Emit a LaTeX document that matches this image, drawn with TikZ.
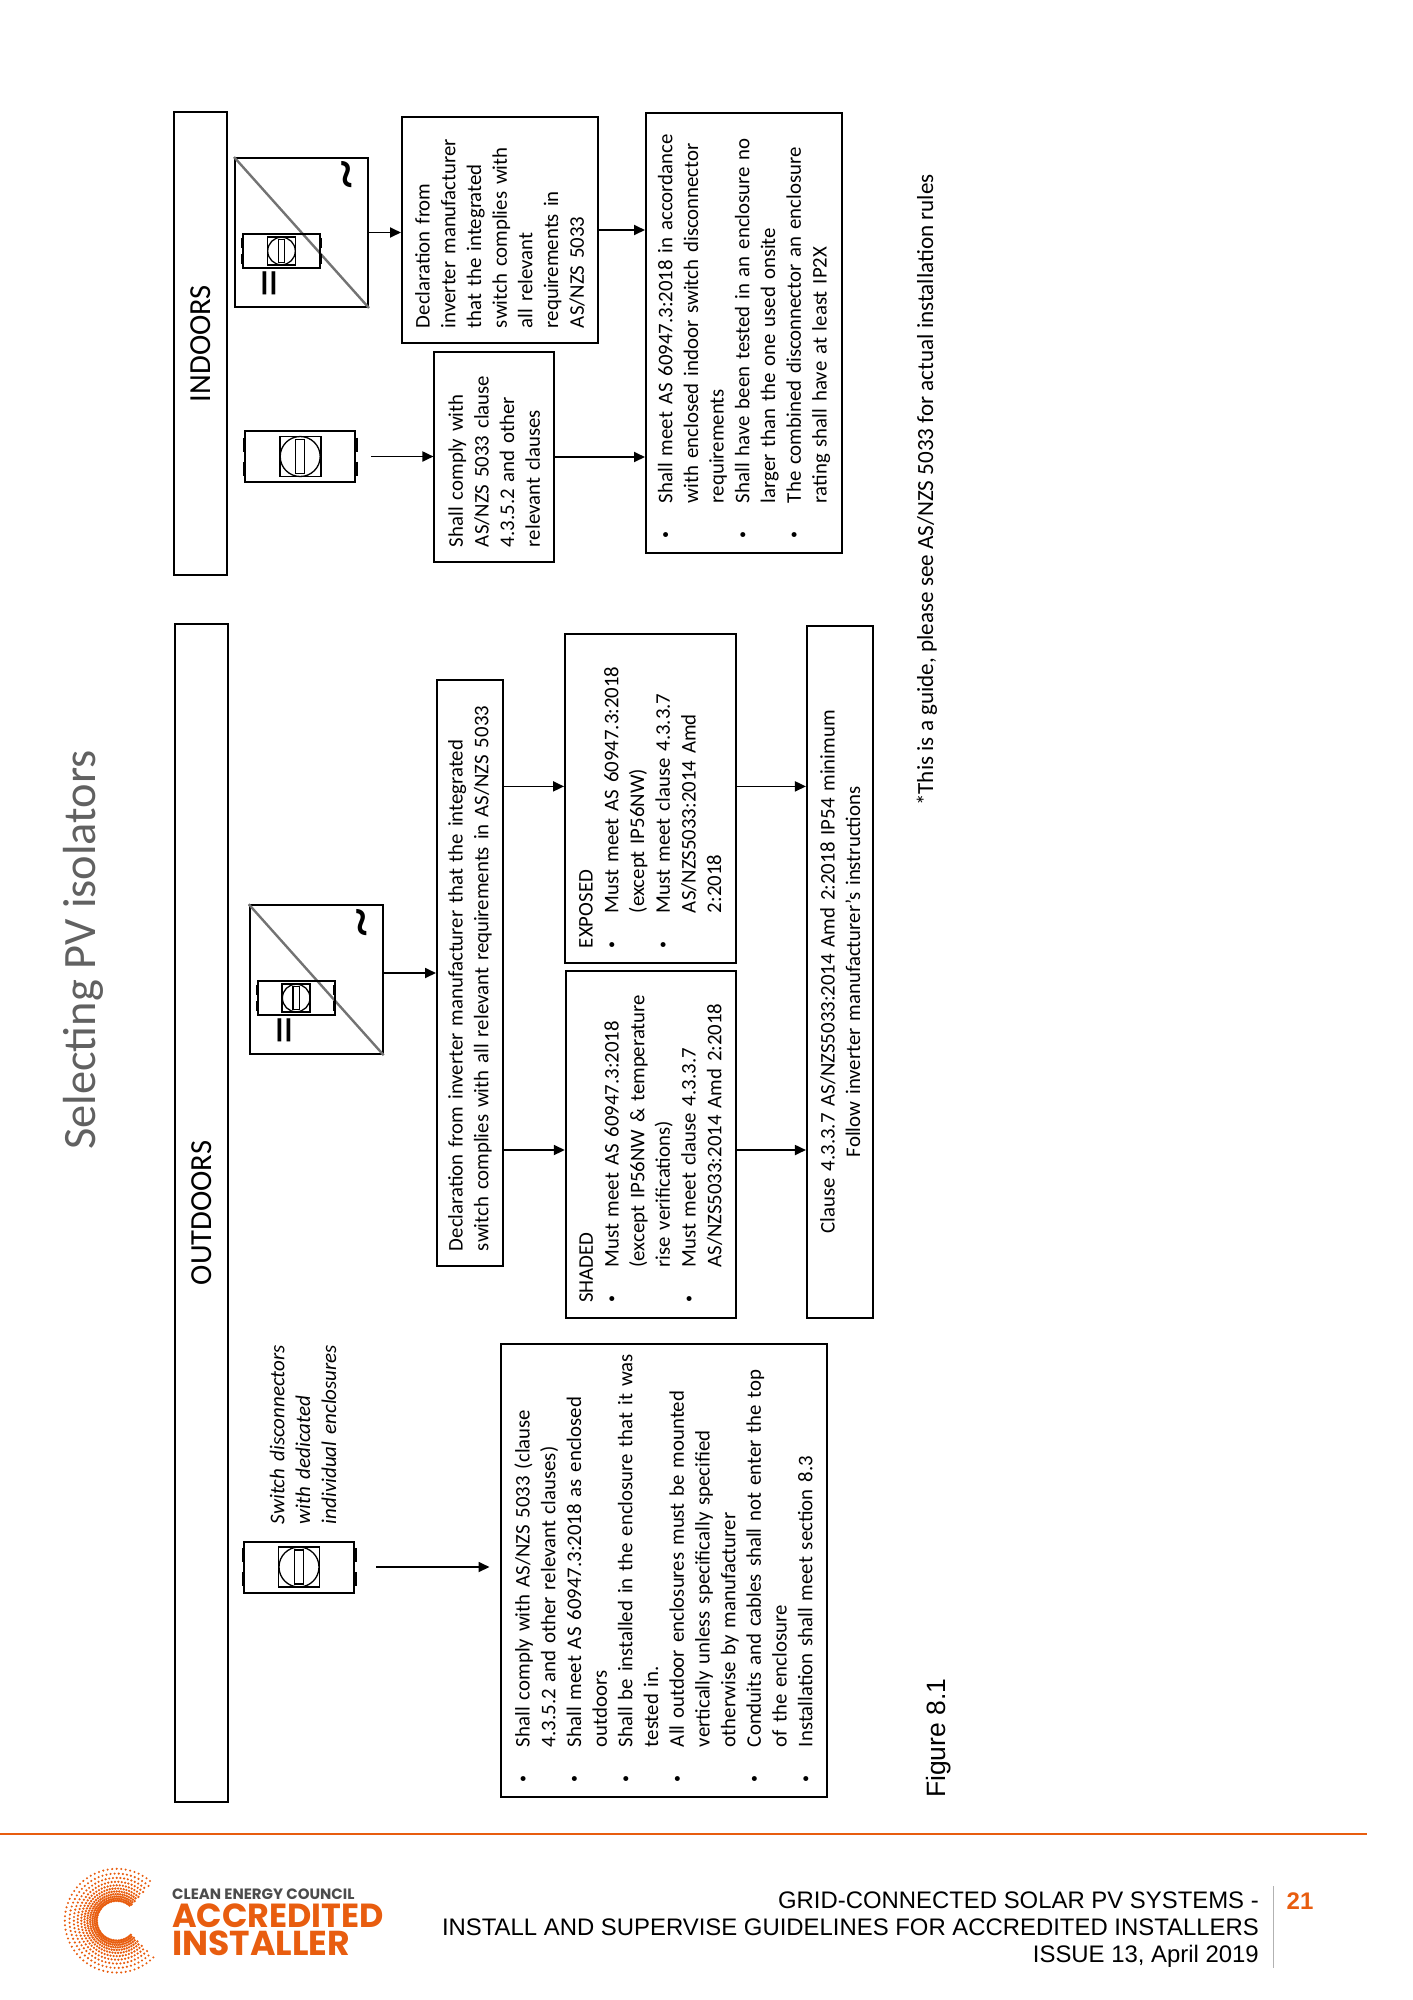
\documentclass[tikz,border=0pt]{standalone}
\usepackage{fontspec}
\setmainfont{Carlito}
\newfontfamily\arialfont{Liberation Sans}
\newfontfamily\logofont{Poppins}
\usetikzlibrary{calc,positioning,arrows.meta}
\definecolor{cecorange}{HTML}{E85D0F}
\newcommand{\blt}{\makebox[35pt][l]{\fontsize{14}{14}\selectfont\raisebox{2.6pt}{\textbullet}}}
\newcommand{\ind}{\hspace*{35pt}}

\begin{document}
\begin{tikzpicture}[
      x=1pt, y=-1pt,
      textbox/.style 2 args={draw, line width=2pt, rotate=90, minimum width=#1pt, minimum height=#2pt,
        text width=\dimexpr#1pt-30pt\relax, inner xsep=15pt, inner ysep=0pt, align=left,
        font=\fontsize{20.8}{25.7}\selectfont},
      bannerbox/.style 2 args={draw, line width=2pt, rotate=90, minimum width=#1pt, minimum height=#2pt,
        inner sep=0pt, font=\fontsize{30.6}{32}\selectfont},
      iconbox/.style 2 args={draw, line width=2pt, minimum width=#1pt, minimum height=#2pt, inner sep=0pt},
      vtext/.style={rotate=90, anchor=base west, inner sep=0pt},
      glyph/.style={rotate=90, inner sep=0pt},
      flow/.style={-{Triangle[length=11pt,width=10pt]}, line width=1.8pt},
      switchknob/.pic={
        \draw[line width=1.7pt] (-20.5,-20) rectangle (20.5,20);
        \draw[line width=1.3pt] (0,0) circle (20);
        \draw[line width=1.3pt] (-4.5,-17) rectangle (4.5,17);
        \draw[line width=3pt] (-56,-19) -- (-56,-5) (-56,5) -- (-56,19)
          (56,-19) -- (56,-5) (56,5) -- (56,19);
      },
      invsymbols/.pic={
        \node[glyph, font=\fontsize{57}{57}\selectfont] (dc) at (-26,50.5) {=};
        \node[glyph, font=\fontsize{60}{60}\selectfont] (ac) at (51.5,-57.5) {\textasciitilde};
      },
    ]
    \useasboundingbox (0,0) rectangle (1413,2000);

    % page text
    \node[vtext, font=\fontsize{46.4}{48}\selectfont, black!62] (title) at (95,1150) {Selecting PV isolators};
    \node[vtext, font=\fontsize{23.1}{26}\selectfont] (note) at (933,806)
      {*This is a guide, please see AS/NZS 5033 for actual installation rules};
    \node[vtext, font=\arialfont\fontsize{26.5}{28}\selectfont] (figlabel) at (945,1798) {Figure 8.1};

    % indoors
    \node[bannerbox={463}{52.5}] (indoors) at (200.5,343.5) {INDOORS};
    \node[iconbox={133}{149}] (invin) at (301.5,232.5) {};
    \draw[line width=2.4pt, black!55] (invin.north west) -- (invin.south east);
    \node[iconbox={77}{34}] (invinsw) at (281.5,251) {};
    \pic[scale=.69] at (invinsw) {switchknob};
    \pic (invinsym) at (invin) {invsymbols};
    \node[iconbox={110}{51}] (swin) at (300.2,456.5) {};
    \pic at (swin) {switchknob};

    \node[textbox={226}{196}] (declin) at (500,230) {%
      Declaration from\\
      inverter manufacturer\\
      that the integrated\\
      switch complies with\\
      all relevant\\
      requirements in\\
      AS/NZS 5033};
    \node[textbox={210}{119.5}] (comply) at (494.2,457) {%
      Shall comply with\\
      AS/NZS 5033 clause\\
      4.3.5.2 and other\\
      relevant clauses};
    \node[textbox={440}{196}] (shallin) at (744,333) {%
      \blt \mbox{Shall meet AS 60947.3:2018 in accordance}\\
      \ind \mbox{with enclosed indoor switch disconnector}\\
      \ind requirements\\
      \blt \mbox{Shall have been tested in an enclosure no}\\
      \ind larger than the one used onsite\\
      \blt The combined disconnector an enclosure\\
      \ind rating shall have at least IP2X};

    % outdoors
    \node[bannerbox={1178}{52.5}] (outdoors) at (201.5,1213) {OUTDOORS};
    \node[iconbox={110}{51}] (swout) at (299,1567) {};
    \pic at (swout) {switchknob};
    \node[rotate=90, inner sep=0pt, text width=180pt, align=left,
      font=\itshape\fontsize{21}{25.9}\selectfont] (swlabel) at (303,1434) {%
      Switch disconnectors\\
      with dedicated\\
      individual enclosures};
    \node[textbox={453}{326}] (shallout) at (663.5,1570.5) {%
      \blt Shall comply with AS/NZS 5033 (clause\\
      \ind 4.3.5.2 and other relevant clauses)\\
      \blt Shall meet AS 60947.3:2018 as enclosed\\
      \ind outdoors\\
      \blt \mbox{Shall be installed in the enclosure that it was}\\
      \ind tested in.\\
      \blt All outdoor enclosures must be mounted\\
      \ind vertically unless specifically specified\\
      \ind otherwise by manufacturer\\
      \blt \mbox{Conduits and cables shall not enter the top}\\
      \ind of the enclosure\\
      \blt Installation shall meet section 8.3};

    \node[iconbox={133}{149}] (invout) at (316.2,979.7) {};
    \draw[line width=2.4pt, black!55] (invout.north west) -- (invout.south east);
    \node[iconbox={77}{34}] (invoutsw) at (296.2,998) {};
    \pic[scale=.69] at (invoutsw) {switchknob};
    \pic (invoutsym) at (invout) {invsymbols};

    \node[textbox={586}{66}] (declout) at (470,973) {%
      Declaration from inverter manufacturer that the integrated\\
      switch complies with all relevant requirements in AS/NZS 5033};
    \node[textbox={329}{170.5}] (exposed) at (650.3,798.5) {%
      EXPOSED\\
      \blt Must meet AS 60947.3:2018\\
      \ind (except IP56NW)\\
      \blt Must meet clause 4.3.3.7\\
      \ind AS/NZS5033:2014 Amd\\
      \ind 2:2018};
    \node[textbox={346.5}{170}] (shaded) at (650.8,1144.3) {%
      SHADED\\
      \blt Must meet AS 60947.3:2018\\
      \ind (except IP56NW \& temperature\\
      \ind rise verifications)\\
      \blt Must meet clause 4.3.3.7\\
      \ind AS/NZS5033:2014 Amd 2:2018};
    \node[textbox={691.5}{66.5}, align=center] (clause) at (840.2,971.8) {%
      Clause 4.3.3.7 AS/NZS5033:2014 Amd 2:2018 IP54 minimum\\
      Follow inverter manufacturer's instructions};

    % connectors
    \coordinate (forkexp) at (0,786.4);
    \coordinate (forkshd) at (0,1150);
    \draw[flow] (invin.east) -- (invin.east -| declin.north);
    \draw[flow, shorten <=15pt] (swin.east) -- (swin.east -| comply.north);
    \draw[flow] (declin.south) -- (declin.south -| shallin.north);
    \draw[flow] (comply.south) -- (comply.south -| shallin.north);
    \draw[flow, shorten <=21pt, shorten >=10pt] (swout.east) -- (swout.east -| shallout.north);
    \draw[flow] (invout.east |- declout.north) -- (declout.north);
    \draw[flow] (declout.south |- forkexp) -- (exposed.north |- forkexp);
    \draw[flow] (declout.south |- forkshd) -- (shaded.north |- forkshd);
    \draw[flow] (exposed.south |- forkexp) -- (clause.north |- forkexp);
    \draw[flow] (shaded.south |- forkshd) -- (clause.north |- forkshd);

    % footer
    \draw[cecorange, line width=2.6pt] (0,1834) -- (1367,1834);
    \draw[black!30, line width=.8pt] (1273,1886) -- (1273,1968);
    \node[anchor=east, inner sep=0pt, align=right, font=\arialfont\fontsize{23.9}{27}\selectfont] (footer) at (1259,1930) {%
      GRID-CONNECTED SOLAR PV SYSTEMS -\\
      INSTALL AND SUPERVISE GUIDELINES FOR ACCREDITED INSTALLERS\\
      ISSUE 13, April 2019};
    \node[inner sep=0pt, cecorange, font=\arialfont\bfseries\fontsize{24}{26}\selectfont] (pageno) at (1300,1901) {21};

    % logo
    \foreach \k in {0,...,10} {
      \pgfmathsetmacro{\rr}{20*1.1^\k}
      \pgfmathsetmacro{\off}{45+2.5*mod(\k,2)}
      \pgfmathsetmacro{\dot}{1.45-0.03*\k}
      \foreach \a in {0,...,53} {
        \fill[cecorange] ($(116.7,1920.7)+(\off+5*\a:\rr)$) circle (\dot);
      }
    }
    \node[anchor=west, inner sep=0pt, black!70, font=\logofont\bfseries\fontsize{15}{16}\selectfont] (logoa) at (172,1894) {CLEAN ENERGY COUNCIL};
    \node[anchor=west, inner sep=0pt, cecorange, font=\logofont\bfseries\fontsize{33.4}{34}\selectfont] (logob) at (172,1916) {ACCREDITED};
    \node[anchor=west, inner sep=0pt, cecorange, font=\logofont\bfseries\fontsize{34.6}{35}\selectfont] (logoc) at (172,1943) {INSTALLER};
  \end{tikzpicture}
\end{document}
